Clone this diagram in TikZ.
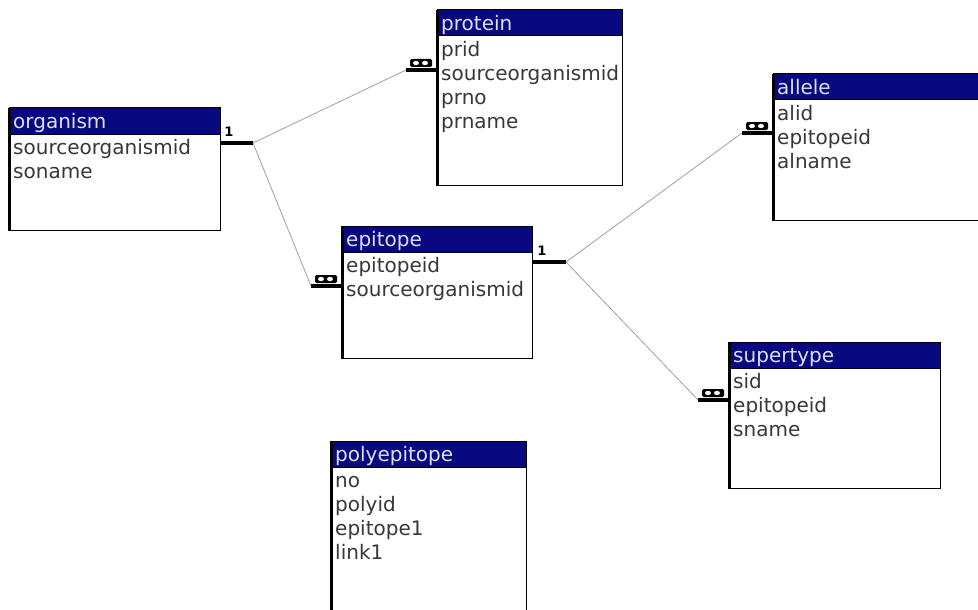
\documentclass[tikz,border=0pt]{standalone}
\usepackage{fontspec}
\setmainfont{DejaVu Sans}
\usetikzlibrary{positioning}
\definecolor{hdblue}{RGB}{8,8,128}
\definecolor{hdtext}{RGB}{222,222,245}
\definecolor{fldtext}{RGB}{55,55,60}
\definecolor{relgray}{RGB}{160,160,160}
\tikzset{
	tbl/.style={draw=black, line width=1.2pt, fill=white, anchor=north west, inner sep=0pt},
	hdr/.style={draw=black, line width=1pt, fill=hdblue},
	title/.style={anchor=west, text=hdtext, inner sep=0pt, text height=15pt, text depth=4pt, font=\fontsize{20}{24}\selectfont},
	field/.style={anchor=west, text=fldtext, inner sep=0pt, text height=15pt, text depth=4pt, font=\fontsize{20}{24}\selectfont},
	rel/.style={draw=relgray, line width=0.8pt},
	bar/.style={line width=4.5pt},
	one/.style={font=\bfseries\fontsize{13}{13}\selectfont, inner sep=0pt},
	many/.pic={
		\draw[bar] (0,0) -- (31,0);
		\fill[rounded corners=1.5pt] (4,-11) rectangle (26,-3);
		\fill[white] (10,-7) ellipse (3 and 2.2);
		\fill[white] (19,-7) ellipse (3 and 2.2);
	}
}
\begin{document}
\begin{tikzpicture}[x=1pt,y=-1pt]
		\clip (0,0) rectangle (978,610);
		%Organism
		\node[tbl, minimum width=211pt, minimum height=122pt] (organism) at (9,108) {};
		\draw[hdr] (9,108) rectangle (220,134);
		\draw[line width=3pt] (organism.north west) -- (organism.south west);
		\node[title] at (13,123) {organism};
		\foreach \f [count=\i] in {sourceorganismid,soname}
			\node[field] (organism-\i) at (13,125+24*\i) {\f};
		%Protein
		\node[tbl, minimum width=185pt, minimum height=175pt] (protein) at (437,10) {};
		\draw[hdr] (437,10) rectangle (622,36);
		\draw[line width=3pt] (protein.north west) -- (protein.south west);
		\node[title] at (441,25) {protein};
		\foreach \f [count=\i] in {prid,sourceorganismid,prno,prname}
			\node[field] (protein-\i) at (441,27+24*\i) {\f};
		%Allele
		\node[tbl, minimum width=230pt, minimum height=146pt] (allele) at (773,74) {};
		\draw[hdr] (773,74) rectangle (1003,100);
		\draw[line width=3pt] (allele.north west) -- (allele.south west);
		\node[title] at (777,89) {allele};
		\foreach \f [count=\i] in {alid,epitopeid,alname}
			\node[field] (allele-\i) at (777,91+24*\i) {\f};
		%Epitope
		\node[tbl, minimum width=190pt, minimum height=132pt] (epitope) at (342,226) {};
		\draw[hdr] (342,226) rectangle (532,252);
		\draw[line width=3pt] (epitope.north west) -- (epitope.south west);
		\node[title] at (346,241) {epitope};
		\foreach \f [count=\i] in {epitopeid,sourceorganismid}
			\node[field] (epitope-\i) at (346,243+24*\i) {\f};
		%Supertype
		\node[tbl, minimum width=211pt, minimum height=146pt] (supertype) at (729,342) {};
		\draw[hdr] (729,342) rectangle (940,368);
		\draw[line width=3pt] (supertype.north west) -- (supertype.south west);
		\node[title] at (733,357) {supertype};
		\foreach \f [count=\i] in {sid,epitopeid,sname}
			\node[field] (supertype-\i) at (733,359+24*\i) {\f};
		%Polyepitope
		\node[tbl, minimum width=195pt, minimum height=190pt] (polyepitope) at (331,441) {};
		\draw[hdr] (331,441) rectangle (526,467);
		\draw[line width=3pt] (polyepitope.north west) -- (polyepitope.south west);
		\node[title] at (335,456) {polyepitope};
		\foreach \f [count=\i] in {no,polyid,epitope1,link1}
			\node[field] (polyepitope-\i) at (335,458+24*\i) {\f};
		%Ends
		\coordinate (org1) at (253,143);
		\coordinate (epi1) at (566,262);
		\coordinate (protn) at (406,70);
		\coordinate (epin) at (311,286);
		\coordinate (alln) at (742,133);
		\coordinate (supn) at (698,400);
		\draw[bar] (organism.east |- org1) -- (org1);
		\node[one] at (229,132) {1};
		\draw[bar] (epitope.east |- epi1) -- (epi1);
		\node[one] at (542,251) {1};
		\pic at (protn) {many};
		\pic at (epin) {many};
		\pic at (alln) {many};
		\pic at (supn) {many};
		%Relations
		\draw[rel] (org1) -- (protn);
		\draw[rel] (org1) -- (epin);
		\draw[rel] (epi1) -- (alln);
		\draw[rel] (epi1) -- (supn);
\end{tikzpicture}
\end{document}
